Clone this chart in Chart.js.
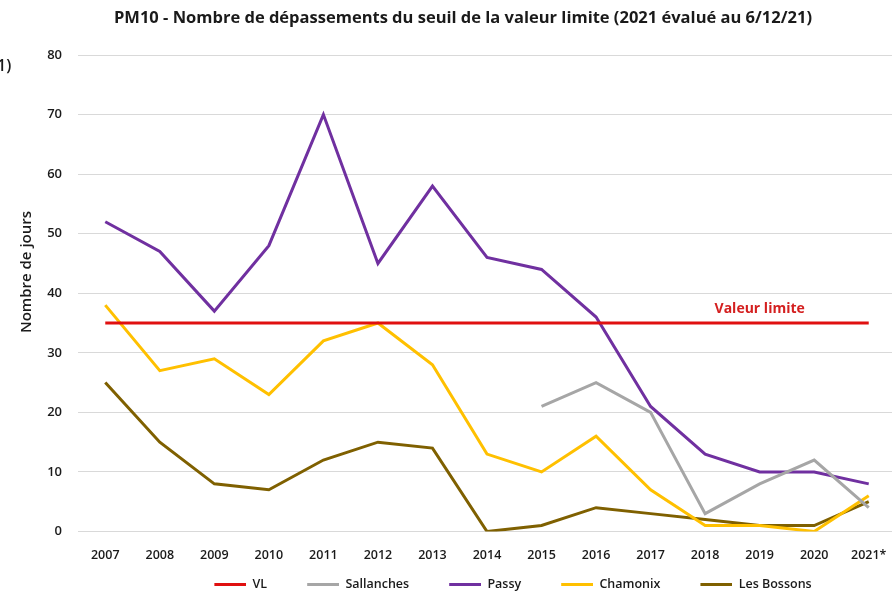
<!DOCTYPE html>
<html>
<head>
<meta charset="utf-8">
<script src="https://cdn.jsdelivr.net/npm/chart.js@4.4.1/dist/chart.umd.min.js"></script>
<style>
  html, body { margin: 0; padding: 0; background: #fff; overflow: hidden; }
  body { width: 892px; height: 595px; position: relative; font-family: "Open Sans", sans-serif; }
  #wrap { position: absolute; left: 0; top: 0; width: 990px; height: 601px; }
  #title { position: absolute; left: 0; top: 5px; width: 926px; text-align: center;
           font-size: 16.5px; font-weight: 700; color: #1a1a1a; white-space: nowrap; }
  #ytitle { position: absolute; left: 25px; top: 272px; transform: translate(-50%, -50%) rotate(-90deg);
            font-size: 15px; font-weight: 600; color: #1a1a1a; white-space: nowrap; }
  #frag { position: absolute; left: -3px; top: 54px; font-size: 16px; font-weight: 600; color: #1a1a1a; }
</style>
</head>
<body>
<div id="wrap"><canvas id="chart"></canvas></div>
<div id="title">PM10 - Nombre de dépassements du seuil de la valeur limite (2021 évalué au 6/12/21)</div>
<div id="ytitle">Nombre de jours</div>
<div id="frag">1)</div>
<script>
// Données
const annees = ["2007", "2008", "2009", "2010", "2011", "2012", "2013", "2014",
                "2015", "2016", "2017", "2018", "2019", "2020", "2021*"];
const valeurLimite = [35, 35, 35, 35, 35, 35, 35, 35, 35, 35, 35, 35, 35, 35, 35];
const sallanches = [null, null, null, null, null, null, null, null, 21, 25, 20, 3, 8, 12, 4];
const passy = [52, 47, 37, 48, 70, 45, 58, 46, 44, 36, 21, 13, 10, 10, 8];
const chamonix = [38, 27, 29, 23, 32, 35, 28, 13, 10, 16, 7, 1, 1, 0, 6];
const bossons = [25, 15, 8, 7, 12, 15, 14, 0, 1, 4, 3, 2, 1, 1, 5];
const yTicks = [0, 10, 20, 30, 40, 50, 60, 70, 80];

const couleurs = ["#e01010", "#a6a6a6", "#7030a0", "#ffc000", "#7f6000"];

// petit trait pour la légende (espace vide à gauche pour écarter les entrées)
function traitLegende(color) {
    const c = document.createElement("canvas");
    c.width = 68;
    c.height = 3;
    const g = c.getContext("2d");
    g.fillStyle = color;
    g.fillRect(36, 0, 32, 3);
    return c;
}

// étiquette "Valeur limite" au-dessus de la ligne rouge
const labelVL = {
    id: "labelVL",
    afterDatasetsDraw(chart) {
        const { ctx, scales } = chart;
        ctx.save();
        ctx.font = "700 14px 'Open Sans'";
        ctx.fillStyle = "#d42020";
        ctx.textAlign = "center";
        ctx.textBaseline = "middle";
        ctx.fillText("Valeur limite", scales.x.getPixelForValue(12), scales.y.getPixelForValue(37.4));
        ctx.restore();
    }
};

const ligne = (label, data, i) => ({
    label: label,
    data: data,
    borderColor: couleurs[i],
    backgroundColor: couleurs[i],
    borderWidth: 3,
    pointRadius: 0,
    tension: 0,
    spanGaps: false
});

const ctx = document.getElementById("chart").getContext("2d");

new Chart(ctx, {
    type: "line",
    data: {
        labels: annees,
        datasets: [
            ligne("VL", valeurLimite, 0),
            ligne("Sallanches", sallanches, 1),
            ligne("Passy", passy, 2),
            ligne("Chamonix", chamonix, 3),
            ligne("Les Bossons", bossons, 4)
        ]
    },
    options: {
        responsive: true,
        maintainAspectRatio: false,
        animation: false,
        layout: { padding: { top: 55, right: 0, bottom: 0, left: 0 } },
        plugins: {
            title: { display: false },
            tooltip: { enabled: false },
            legend: {
                position: "bottom",
                labels: {
                    usePointStyle: true,
                    pointStyleWidth: 68,
                    padding: 4,
                    color: "#1a1a1a",
                    font: { family: "Open Sans", size: 12.5, weight: "600" },
                    generateLabels(chart) {
                        const items = Chart.defaults.plugins.legend.labels.generateLabels(chart);
                        items.forEach(it => { it.pointStyle = traitLegende(couleurs[it.datasetIndex]); });
                        return items;
                    }
                }
            }
        },
        scales: {
            x: {
                offset: true,
                afterFit(s) { s.height = 43; },
                grid: { display: false },
                border: { display: false },
                ticks: {
                    padding: 8,
                    color: "#1a1a1a",
                    font: { family: "Open Sans", size: 12.5, weight: "600" },
                    maxRotation: 0,
                    autoSkip: false
                }
            },
            y: {
                min: 0,
                max: 80,
                afterFit(s) { s.width = 78; },
                afterBuildTicks(s) { s.ticks = yTicks.map(v => ({ value: v })); },
                grid: { color: "#d9d9d9", lineWidth: 1, drawTicks: false },
                border: { display: false },
                ticks: {
                    padding: 16,
                    color: "#1a1a1a",
                    font: { family: "Open Sans", size: 13, weight: "600" }
                }
            },
            // axe vide à droite : seulement pour la marge (le graphique d'origine est rogné)
            marge: {
                position: "right",
                min: 0,
                max: 80,
                afterFit(s) { s.width = 94; },
                grid: { display: false },
                border: { display: false },
                ticks: { display: false }
            }
        }
    },
    plugins: [labelVL]
});
</script>
</body>
</html>
